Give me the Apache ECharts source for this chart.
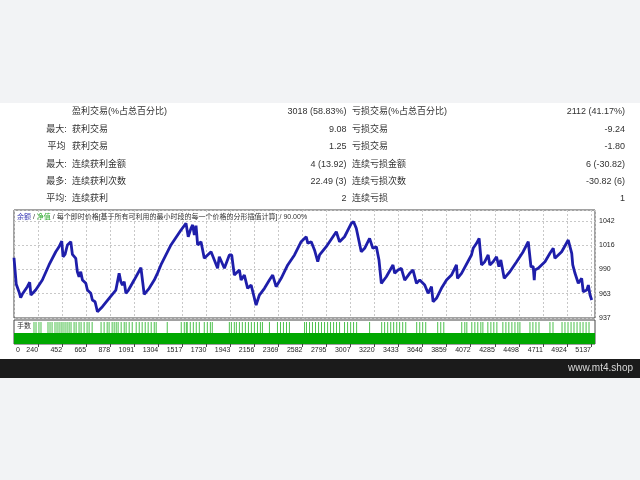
<!DOCTYPE html>
<html><head><meta charset="utf-8">
<script src="https://cdn.jsdelivr.net/npm/echarts@6/dist/echarts.min.js"></script>
<style>html,body{margin:0;padding:0;background:#f2f3f5}#c{width:640px;height:480px}</style>
</head><body><div id="c"></div><script>
// ---- report table ----
const rowPrefix = ['', '最大:', '平均', '最大:', '最多:', '平均:'];
const leftLabels = ['盈利交易(%占总百分比)', '获利交易', '获利交易', '连续获利金额', '连续获利次数', '连续获利'];
const leftValues = ['3018 (58.83%)', '9.08', '1.25', '4 (13.92)', '22.49 (3)', '2'];
const rightLabels = ['亏损交易(%占总百分比)', '亏损交易', '亏损交易', '连续亏损金额', '连续亏损次数', '连续亏损'];
const rightValues = ['2112 (41.17%)', '-9.24', '-1.80', '6 (-30.82)', '-30.82 (6)', '1'];

// ---- axes ----
const xTickLabels = ['0','240','452','665','878','1091','1304','1517','1730','1943','2156','2369','2582','2795','3007','3220','3433','3646','3859','4072','4285','4498','4711','4924','5137'];
const yTickLabels = ['937','963','990','1016','1042'];

// ---- balance curve [trade #, balance] ----
const balance = [
[27,1002.1],[47,973.4],[62,974.5],[71,965.4],[86,958.9],[100,962.6],[145,970.8],[166,975.6],[177,961.8],[219,967.2],
[278,978.0],[337,994.3],[397,1008.6],[426,1014.0],[450,1020.2],[461,1003.2],[479,1005.8],[500,1015.9],[530,1019.4],[544,1005.8],
[574,1001.5],[588,987.0],[603,981.6],[618,987.0],[633,978.0],[663,974.5],[677,967.2],[707,963.7],[721,956.4],[745,954.6],
[766,943.8],[810,949.2],[869,958.3],[929,967.2],[958,985.3],[973,976.2],[987,972.6],[1003,976.2],[1018,963.7],[1041,967.2],
[1091,978.0],[1151,991.3],[1180,962.6],[1224,969.1],[1269,978.0],[1298,985.5],[1328,994.3],[1417,1015.9],[1506,1032.1],[1550,1039.3],
[1570,1024.8],[1594,1033.9],[1609,1037.5],[1624,1026.7],[1639,1036.7],[1653,1015.9],[1683,1019.4],[1712,1001.5],[1742,1005.1],[1772,1008.6],
[1801,999.7],[1830,990.7],[1845,1003.2],[1890,990.7],[1934,1005.1],[1955,1005.1],[1978,983.4],[2023,988.9],[2038,978.0],[2067,983.4],
[2096,969.1],[2127,972.6],[2156,958.3],[2171,951.0],[2200,961.8],[2245,969.1],[2289,978.0],[2318,983.4],[2348,970.8],[2393,979.9],
[2451,994.3],[2511,1005.1],[2570,1019.4],[2615,1024.8],[2629,1017.7],[2659,1019.4],[2688,1010.5],[2717,997.8],[2733,1005.1],[2792,1014.0],
[2881,1030.2],[2895,1032.1],[2910,1019.4],[2954,1024.8],[3014,1039.3],[3034,1041.0],[3058,1033.9],[3072,1035.6],[3102,1008.6],[3132,1012.3],
[3176,1023.1],[3205,1012.3],[3236,1014.0],[3259,999.7],[3280,974.5],[3324,981.6],[3383,994.3],[3398,985.3],[3427,988.9],[3457,990.7],
[3487,978.0],[3531,985.3],[3560,988.9],[3591,974.5],[3620,978.0],[3664,972.6],[3694,963.7],[3724,970.8],[3738,954.6],[3768,958.3],
[3812,969.1],[3857,978.0],[3901,983.4],[3930,990.7],[3945,994.3],[3954,979.9],[3990,985.3],[4078,1005.1],[4093,1012.3],[4123,1017.7],
[4146,1023.1],[4167,994.3],[4196,997.8],[4226,1005.1],[4241,994.3],[4270,997.8],[4300,1003.2],[4321,992.4],[4338,999.7],[4368,979.9],
[4418,987.0],[4478,997.8],[4536,1008.6],[4581,1019.4],[4605,992.4],[4625,992.4],[4634,978.0],[4640,988.9],[4669,990.7],[4729,997.8],
[4773,1006.9],[4802,1012.3],[4817,1001.5],[4877,1008.6],[4935,1021.3],[4966,1006.9],[4975,994.3],[4995,985.3],[5010,983.4],[5024,974.5],
[5054,979.9],[5068,965.4],[5099,967.2],[5113,972.6],[5128,961.8],[5143,956.4]
];

// ---- lots panel ----
const lotBase = [[27,0.01],[5172,0.01]];
const lotSpikeTrades = [204,222,248,266,328,346,364,390,408,426,444,461,479,497,515,532,559,577,603,621,648,674,692,719,
798,825,852,869,896,914,932,949,976,1003,1020,1047,1074,1109,1136,1162,1189,1215,1242,1269,1286,1384,1508,1535,1553,1561,
1588,1615,1641,1668,1712,1739,1766,1783,1934,1952,1978,1996,2023,2049,2076,2103,2129,2156,2183,2209,2227,2289,2360,2387,
2413,2440,2466,2600,2617,2644,2670,2697,2724,2750,2777,2804,2830,2857,2883,2910,2954,2981,3008,3034,3061,3176,3283,3309,
3336,3363,3389,3416,3442,3469,3496,3593,3620,3646,3673,3779,3806,3833,3992,4019,4037,4081,4108,4134,4161,4179,4223,4250,
4276,4303,4356,4383,4409,4436,4463,4489,4507,4596,4622,4649,4676,4773,4800,4880,4906,4933,4960,4986,5013,5040,5066,5093,5119];
const lotSpikeSize = 0.02;

const X_MIN = 27, X_MAX = 5172, X_STEP = 212.875;
const Y_MIN = 937, Y_MAX = 1053.7, Y_STEP = 26.25;

const FONT = '"Liberation Sans","Noto Sans CJK SC",sans-serif';
const graphics = [
  {type:'rect', z:-100, shape:{x:0,y:103,width:640,height:256}, style:{fill:'#ffffff'}},
  {type:'rect', z:100, shape:{x:0,y:359,width:640,height:19}, style:{fill:'#1b1b1b'}},
  {type:'text', z:101, x:633, y:368.5, style:{text:'www.mt4.shop', fill:'#d8d8d8', font:'10px '+FONT, align:'right', verticalAlign:'middle'}},
  {type:'text', z:50, x:17, y:217, style:{
     text:'{b|余额} / {g|净值} / 每个即时价格[基于所有可利用的最小时段的每一个价格的分形插值计算] / 90.00%',
     fill:'#333', font:'7px '+FONT, verticalAlign:'middle',
     rich:{b:{fill:'#3a3ab4', font:'7px '+FONT}, g:{fill:'#2aa82a', font:'7px '+FONT}}}},
  {type:'text', z:50, x:17, y:326, style:{text:'手数', fill:'#333', font:'7px '+FONT, verticalAlign:'middle'}}
];
for (let i = 0; i < leftLabels.length; i++) {
  const y = 112 + i * 17.35;
  const st = (t, x, align) => ({type:'text', z:50, x:x, y:y, style:{text:t, fill:'#333', font:'9px '+FONT, align:align, verticalAlign:'middle'}});
  if (rowPrefix[i]) graphics.push(st(rowPrefix[i], 56.5, 'center'));
  graphics.push(st(leftLabels[i], 72, 'left'));
  graphics.push(st(leftValues[i], 346.5, 'right'));
  graphics.push(st(rightLabels[i], 352, 'left'));
  graphics.push(st(rightValues[i], 625, 'right'));
}

const chart = echarts.init(document.getElementById('c'), null, {renderer:'canvas'});
chart.setOption({
  backgroundColor:'#f2f3f5',
  animation:false,
  graphic: graphics,
  grid:[
    {left:14, top:210, width:581, height:108, show:true, borderColor:'#444', borderWidth:1, backgroundColor:'transparent'},
    {left:14, top:320, width:581, height:24, show:true, borderColor:'#444', borderWidth:1, backgroundColor:'transparent'}
  ],
  xAxis:[
    {gridIndex:0, type:'value', position:'bottom', min:X_MIN, max:X_MAX, interval:X_STEP,
     axisLine:{show:false}, axisTick:{show:false}, axisLabel:{show:false},
     splitLine:{show:true, lineStyle:{color:'#c8c8c8', type:[2,2], width:1}}},
    {gridIndex:1, type:'value', position:'bottom', min:X_MIN, max:X_MAX, interval:X_STEP,
     axisLine:{show:false}, axisTick:{show:true, length:3, lineStyle:{color:'#444'}},
     splitLine:{show:false},
     axisLabel:{show:true, showMinLabel:false, showMaxLabel:false, align:'right', margin:3,
       fontSize:7, fontFamily:FONT, color:'#222',
       formatter:(v, i) => (i > 0 && i < xTickLabels.length) ? xTickLabels[i] : ''}},
    {gridIndex:1, type:'value', position:'bottom', offset:0, min:X_MIN, max:X_MAX, interval:X_STEP,
     axisLine:{show:false}, axisTick:{show:false}, splitLine:{show:false},
     axisLabel:{show:true, showMinLabel:true, showMaxLabel:false, align:'left', margin:3,
       fontSize:7, fontFamily:FONT, color:'#222', padding:[0,0,0,2],
       formatter:(v, i) => i === 0 ? xTickLabels[0] : ''}}
  ],
  yAxis:[
    {gridIndex:0, type:'value', position:'right', min:Y_MIN, max:Y_MAX, interval:Y_STEP,
     axisLine:{show:false}, axisTick:{show:false},
     axisLabel:{show:true, showMaxLabel:false, margin:4, fontSize:7, fontFamily:FONT, color:'#222',
       formatter:(v, i) => i < yTickLabels.length ? yTickLabels[i] : ''},
     splitLine:{show:true, lineStyle:{color:'#c8c8c8', type:[2,2], width:1}}},
    {gridIndex:1, type:'value', min:0, max:0.0218, show:false}
  ],
  series:[
    {type:'line', xAxisIndex:0, yAxisIndex:0, data:balance, symbol:'none',
     lineStyle:{color:'#1e1eaa', width:2.8}, z:5},
    {type:'line', xAxisIndex:1, yAxisIndex:1, data:lotBase, symbol:'none',
     lineStyle:{width:0}, areaStyle:{color:'#00a800', opacity:1}, z:3},
    {type:'bar', xAxisIndex:1, yAxisIndex:1, data:lotSpikeTrades.map(t => [t, lotSpikeSize]),
     barWidth:1, itemStyle:{color:'#4cc04c'}, z:2}
  ]
});
</script></body></html>
